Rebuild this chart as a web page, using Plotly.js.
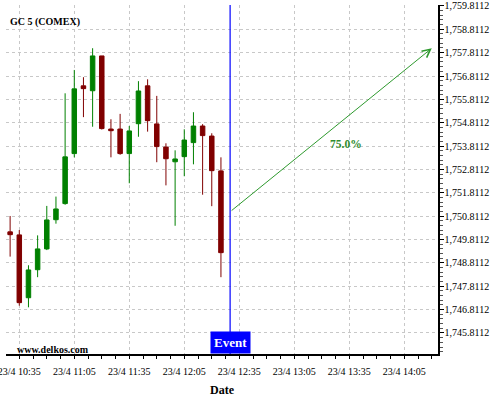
<!DOCTYPE html>
<html>
<head>
<meta charset="utf-8">
<script src="https://cdn.plot.ly/plotly-3.0.1.min.js"></script>
<style>html,body{margin:0;padding:0;background:#fff;}#chart{width:500px;height:400px;}</style>
</head>
<body>
<div id="chart"></div>
<script>
var times = ["2025-04-23 10:30","2025-04-23 10:35","2025-04-23 10:40","2025-04-23 10:45","2025-04-23 10:50","2025-04-23 10:55",
             "2025-04-23 11:00","2025-04-23 11:05","2025-04-23 11:10","2025-04-23 11:15","2025-04-23 11:20","2025-04-23 11:25",
             "2025-04-23 11:30","2025-04-23 11:35","2025-04-23 11:40","2025-04-23 11:45","2025-04-23 11:50","2025-04-23 11:55",
             "2025-04-23 12:00","2025-04-23 12:05","2025-04-23 12:10","2025-04-23 12:15","2025-04-23 12:20","2025-04-23 12:25"];
var openVals  = [1750.14,1750.01,1747.32,1748.52,1749.41,1750.66,1751.35,1753.49,1756.39,1756.18,1757.67,1754.54,1754.54,1753.49,1754.77,1756.39,1754.76,1753.77,1753.14,1753.36,1753.96,1754.67,1754.24,1752.75];
var highVals  = [1750.82,1750.22,1748.71,1749.99,1751.25,1751.65,1756.07,1757.07,1756.76,1758.00,1757.67,1754.96,1755.19,1754.67,1756.59,1756.67,1755.96,1753.93,1753.63,1754.53,1755.26,1754.75,1754.36,1753.33];
var lowVals   = [1749.08,1746.98,1746.91,1748.20,1749.36,1750.49,1751.30,1753.33,1755.05,1754.64,1754.52,1753.33,1753.44,1752.22,1754.21,1754.43,1753.12,1752.13,1750.40,1752.52,1753.03,1751.73,1751.24,1748.20];
var closeVals = [1750.02,1747.11,1748.51,1749.41,1750.65,1751.12,1753.35,1756.26,1756.27,1757.67,1754.56,1754.47,1753.49,1754.46,1756.17,1754.90,1753.79,1753.27,1753.26,1754.07,1754.67,1754.26,1752.76,1749.25];

var eventTime = "2025-04-23 12:30";
var forecastStart = ["2025-04-23 12:30", 1751.0];
var forecastEnd = ["2025-04-23 14:20", 1758.0];
var forecastLabel = "75.0%";
var forecastLabelPos = ["2025-04-23 13:33", 1753.9];
var chartTitle = "GC 5 (COMEX)";
var watermark = "www.delkos.com";
var xTitle = "Date";

var serif = "Liberation Serif";

var trace = {
  type: "candlestick",
  x: times, open: openVals, high: highVals, low: lowVals, close: closeVals,
  increasing: {line: {color: "#008000", width: 1}, fillcolor: "#008000"},
  decreasing: {line: {color: "#800000", width: 1}, fillcolor: "#800000"},
  whiskerwidth: 0,
  hoverinfo: "skip",
  showlegend: false
};

var layout = {
  width: 500, height: 400,
  margin: {l: 6, r: 62, t: 5, b: 46},
  paper_bgcolor: "#ffffff", plot_bgcolor: "#ffffff",
  showlegend: false,
  font: {family: serif, color: "#000"},
  title: {text: "<b>" + chartTitle + "</b>", font: {family: serif, size: 10, color: "#000"},
          xref: "container", yref: "container", x: 0.02, xanchor: "left", y: 1 - 21/400, yanchor: "middle"},
  xaxis: {
    type: "date",
    range: ["2025-04-23 10:27:45", "2025-04-23 14:23:24"],
    rangeslider: {visible: false},
    tick0: "2025-04-23 10:35", dtick: 1800000,
    tickformat: "%-d/%-m %H:%M",
    tickfont: {family: serif, size: 10, color: "#000"},
    ticklabeloverflow: "allow",
    ticklabelstandoff: 4,
    ticks: "outside", ticklen: 3, tickcolor: "#000",
    showgrid: true, gridcolor: "#c8c8c8", griddash: "3px,3px", gridwidth: 1,
    minor: {dtick: 450000, tick0: "2025-04-23 10:35", ticks: "outside", ticklen: 3, tickcolor: "#000", showgrid: false},
    showline: true, linecolor: "#000", linewidth: 1.5,
    zeroline: false,
    title: {text: "<b>" + xTitle + "</b>", font: {family: serif, size: 12, color: "#000"}, standoff: 10}
  },
  yaxis: {
    side: "right",
    range: [1744.912, 1759.85],
    tick0: 1745.8112, dtick: 1,
    tickformat: ",.4f",
    tickfont: {family: serif, size: 10, color: "#000"},
    ticks: "outside", ticklen: 4, tickcolor: "#000",
    ticklabelstandoff: -1,
    showgrid: true, gridcolor: "#c8c8c8", griddash: "3px,3px", gridwidth: 1,
    minor: {dtick: 0.2, tick0: 1745.8112, ticks: "outside", ticklen: 3, tickcolor: "#555", showgrid: false},
    showline: true, linecolor: "#000", linewidth: 1.5,
    zeroline: false
  },
  shapes: [
    {type: "line", xref: "x", yref: "paper", x0: eventTime, x1: eventTime, y0: 0, y1: 1,
     line: {color: "#0000ff", width: 1.2}, layer: "above"}
  ],
  annotations: [
    {x: forecastEnd[0], y: forecastEnd[1], xref: "x", yref: "y",
     ax: forecastStart[0], ay: forecastStart[1], axref: "x", ayref: "y",
     showarrow: true, arrowhead: 5, arrowsize: 1.6, arrowwidth: 1, arrowcolor: "#2e9a2e", text: ""},
    {x: forecastLabelPos[0], y: forecastLabelPos[1], xref: "x", yref: "y", showarrow: false,
     text: "<b>" + forecastLabel + "</b>", font: {family: serif, size: 11.5, color: "#2e8b2e"}},
    {x: eventTime, y: 0, xref: "x", yref: "paper", yanchor: "bottom", showarrow: false,
     text: "<b>Event</b>", font: {family: serif, size: 13, color: "#ffffff"},
     bgcolor: "#0000ff", borderpad: 3},
    {x: 9/432, y: 5/349, xref: "paper", yref: "paper", xanchor: "left", yanchor: "middle", showarrow: false,
     text: "<b>" + watermark + "</b>", font: {family: serif, size: 10, color: "#000"}}
  ]
};

Plotly.newPlot("chart", [trace], layout, {staticPlot: true, displayModeBar: false});
</script>
</body>
</html>
